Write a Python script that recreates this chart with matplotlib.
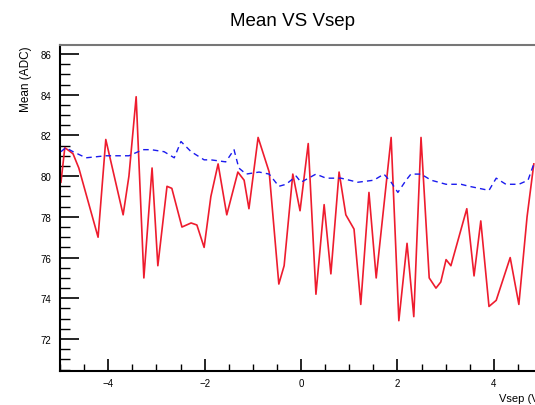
import numpy as np
import matplotlib
matplotlib.use('Agg')
import matplotlib.pyplot as plt
from matplotlib.ticker import MultipleLocator

plt.rcParams['font.family'] = ['Liberation Sans', 'DejaVu Sans']

# Red series (noisy)
red_x = [-4.98, -4.90, -4.73, -4.61, -4.21, -4.05, -3.69, -3.57, -3.42, -3.26,
         -3.09, -2.97, -2.78, -2.68, -2.47, -2.28, -2.16, -2.01, -1.87, -1.72,
         -1.54, -1.31, -1.18, -1.08, -0.89, -0.66, -0.46, -0.35, -0.17, -0.02,
         0.15, 0.31, 0.48, 0.62, 0.79, 0.93, 1.10, 1.24, 1.41, 1.56,
         1.87, 2.03, 2.20, 2.34, 2.49, 2.66, 2.80, 2.90, 3.01, 3.11,
         3.44, 3.59, 3.73, 3.90, 4.05, 4.34, 4.52, 4.69, 4.83]
red_y = [79.7, 81.4, 81.1, 80.4, 77.0, 81.8, 78.1, 80.0, 83.9, 75.0,
         80.4, 75.6, 79.5, 79.4, 77.5, 77.7, 77.6, 76.5, 79.0, 80.6,
         78.1, 80.2, 79.8, 78.4, 81.9, 80.2, 74.7, 75.6, 80.1, 78.3,
         81.6, 74.2, 78.6, 75.2, 80.2, 78.1, 77.4, 73.7, 79.2, 75.0,
         81.9, 72.9, 76.7, 73.1, 81.9, 75.0, 74.5, 74.8, 75.9, 75.6,
         78.4, 75.1, 77.8, 73.6, 73.9, 76.0, 73.7, 78.0, 80.6]

# Blue dashed series (smooth)
blue_x = [-4.98, -4.88, -4.73, -4.46, -4.05, -3.57, -3.28, -3.11, -2.84, -2.63,
          -2.49, -2.28, -2.01, -1.87, -1.56, -1.39, -1.29, -1.14, -0.87, -0.66,
          -0.46, -0.31, -0.10, 0.00, 0.31, 0.52, 0.83, 1.18, 1.51, 1.72,
          1.87, 2.01, 2.18, 2.28, 2.49, 2.70, 3.01, 3.32, 3.49, 3.90,
          4.05, 4.25, 4.52, 4.71, 4.83]
blue_y = [81.2, 81.4, 81.2, 80.9, 81.0, 81.0, 81.3, 81.3, 81.2, 80.9,
          81.7, 81.2, 80.8, 80.8, 80.7, 81.3, 80.4, 80.1, 80.2, 80.1,
          79.5, 79.6, 80.0, 79.7, 80.1, 79.9, 79.9, 79.7, 79.8, 80.1,
          79.7, 79.2, 79.8, 80.1, 80.1, 79.8, 79.6, 79.6, 79.5, 79.3,
          79.9, 79.6, 79.6, 79.8, 80.6]

W, H = 535, 406
fig = plt.figure(figsize=(W / 100, H / 100), dpi=100)
# axes run past the right edge of the canvas, like the reference
ax = fig.add_axes([60 / W, (H - 372) / H, 482 / W, 326 / H])

ax.plot(red_x, red_y, color='#ee1c2e', lw=1.2)
ax.plot(blue_x, blue_y, color='#1a1aee', lw=1.0, dashes=(4, 3))

ax.set_xlim(-5, 5)
ax.set_ylim(70.43, 86.44)

ax.xaxis.set_major_locator(MultipleLocator(2))
ax.xaxis.set_minor_locator(MultipleLocator(0.5))
ax.yaxis.set_major_locator(MultipleLocator(2))
ax.yaxis.set_minor_locator(MultipleLocator(0.5))
ax.tick_params(axis='x', which='major', direction='in', length=9, width=1.2, labelsize=7, pad=5)
ax.tick_params(axis='x', which='minor', direction='in', length=5, width=1.0)
ax.tick_params(axis='y', which='major', direction='in', length=14, width=1.2, labelsize=7, pad=6)
ax.tick_params(axis='y', which='minor', direction='in', length=7, width=1.0)

for s in ['left', 'bottom']:
    ax.spines[s].set_linewidth(1.5)
ax.spines['top'].set_linewidth(1.5)
ax.spines['top'].set_color('#777777')

ax.set_xlabel('Vsep (V)', fontsize=8, ha='right', x=1.0, labelpad=4)
ax.set_ylabel('Mean (ADC)', fontsize=8.5, ha='right', y=1.0, labelpad=6)

fig.text(293 / W, 1 - 22 / H, 'Mean VS Vsep', fontsize=13.5, ha='center', va='center')

fig.savefig('out.png', dpi=100)
